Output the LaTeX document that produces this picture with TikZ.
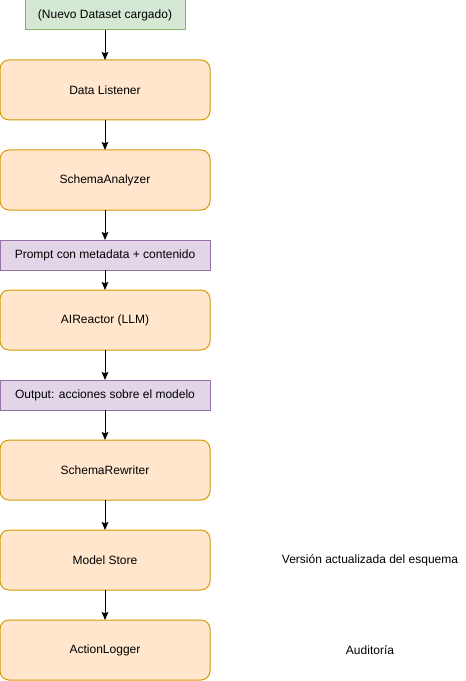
\documentclass[tikz,border=0pt]{standalone}
\usepackage{fontspec}
\setmainfont{Liberation Sans}
\usetikzlibrary{arrows.meta}
\definecolor{grfill}{HTML}{D5E8D4}
\definecolor{grline}{HTML}{82B366}
\definecolor{orfill}{HTML}{FFE6CC}
\definecolor{orline}{HTML}{D79B00}
\definecolor{pufill}{HTML}{E1D5E7}
\definecolor{puline}{HTML}{9673A6}
\begin{document}
\begin{tikzpicture}[x=0.75pt,y=-0.75pt,
  every node/.style={font=\fontsize{9}{11}\selectfont, inner sep=0pt, outer sep=0pt},
  greenbox/.style={draw=grline, fill=grfill, line width=0.75pt, minimum width=120pt, minimum height=22.5pt},
  orbox/.style={draw=orline, fill=orfill, line width=0.75pt, rounded corners=6.75pt, minimum width=157.5pt, minimum height=45pt},
  pubox/.style={draw=puline, fill=pufill, line width=0.75pt, minimum width=157.5pt, minimum height=22.5pt},
  plain/.style={},
  conn/.style={-{Stealth[length=6pt,width=5pt,inset=1pt]}, line width=0.75pt, black}]
\useasboundingbox (0,0) rectangle (466,681);
\node[greenbox] (start) at (105,15) {(Nuevo Dataset cargado)};
\node[orbox] (dl) at (105,90) {Data Listener};
\node[orbox] (sa) at (105,180) {SchemaAnalyzer};
\node[pubox] (pr) at (105,255) {Prompt con metadata + contenido};
\node[orbox] (ai) at (105,320) {AIReactor (LLM)};
\node[pubox] (out) at (105,395) {Output: acciones sobre el modelo};
\node[orbox] (sr) at (105,470) {SchemaRewriter};
\node[orbox] (ms) at (105,560) {Model Store};
\node[orbox] (al) at (105,650) {ActionLogger};
\node[plain] (v) at (370,560) {Versión actualizada del esquema};
\node[plain] (au) at (370,650) {Auditoría};
\draw[conn] (start) -- (dl);
\draw[conn] (dl) -- (sa);
\draw[conn] (sa) -- (pr);
\draw[conn] (pr) -- (ai);
\draw[conn] (ai) -- (out);
\draw[conn] (out) -- (sr);
\draw[conn] (sr) -- (ms);
\draw[conn] (ms) -- (al);
\end{tikzpicture}
\end{document}
